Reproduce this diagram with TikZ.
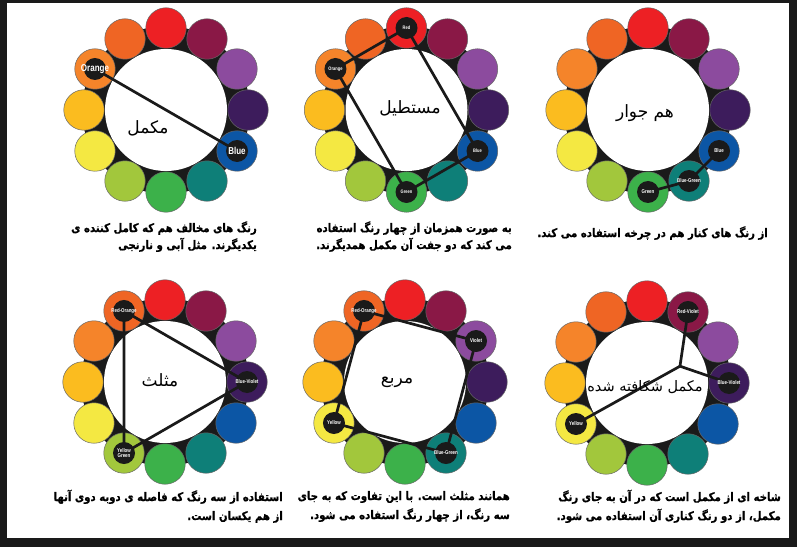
\documentclass[tikz,border=0pt]{standalone}
\usepackage{fontspec}
\TeXXeTstate=1
\newfontfamily\arfont[Script=Arabic]{DejaVu Sans}
\newfontfamily\arcap[Script=Arabic, FakeStretch=0.86, BoldFeatures={FakeBold=0.8}]{DejaVu Sans}
\newfontfamily\lblfont[FakeStretch=0.8]{Liberation Sans}
\definecolor{cR}{HTML}{ED2024}
\definecolor{cRV}{HTML}{8A1846}
\definecolor{cV}{HTML}{8C4B9E}
\definecolor{cBV}{HTML}{3D1C5C}
\definecolor{cB}{HTML}{0C56A5}
\definecolor{cBG}{HTML}{0E7F78}
\definecolor{cG}{HTML}{3CB14A}
\definecolor{cYG}{HTML}{A2C73C}
\definecolor{cY}{HTML}{F4E842}
\definecolor{cYO}{HTML}{FBBC1F}
\definecolor{cO}{HTML}{F5842A}
\definecolor{cRO}{HTML}{EF6524}
\definecolor{ink}{HTML}{1A1A1A}
\tikzset{
  wheelbg/.style={fill=ink},
  hub/.style={circle, fill=white, minimum size=122, inner sep=0},
  petal/.style={circle, minimum size=40.5, inner sep=0, draw=black!60, line width=0.5},
  seldot/.style={circle, fill=ink, minimum size=22, inner sep=0},
  lbl/.style={text=white, inner sep=0, align=center},
  link/.style={line width=2.7, draw=ink, line cap=round, line join=round},
  centertxt/.style={font=\arfont\fontsize{17}{20}\selectfont, inner sep=0},
  captxt/.style={font=\arcap\bfseries\fontsize{11.8}{13}\selectfont, anchor=base east, inner sep=0},
}
\newcommand\wheel[3]{%
  \fill[wheelbg] (#2,#3) circle (84);
  \node[hub] (#1hub) at (#2,#3) {};
  \foreach \ang/\cl/\nm in {90/cR/r, 60/cRV/rv, 30/cV/v, 0/cBV/bv, -30/cB/b, -60/cBG/bg, -90/cG/g, -120/cYG/yg, -150/cY/y, 180/cYO/yo, 150/cO/o, 120/cRO/ro}
    {\node[petal, fill=\cl] (#1\nm) at ([shift={(\ang:82)}] #2,#3) {};}
}
\newcommand\sel[3]{%
  \node[seldot] (#1dot) at (#1) {};
  \node[lbl, font=\lblfont\bfseries\fontsize{#3}{#3}\selectfont] (#1lbl) at (#1) {#2};
}
\begin{document}
\begin{tikzpicture}[x=1pt, y=1pt]
\useasboundingbox (0,0) rectangle (797,547);
\fill[ink] (0,0) rectangle (797,547);
\fill[white] (7,9) rectangle (789,544);
% wheels
\wheel{wa}{166}{437}
\wheel{wb}{406.5}{437}
\wheel{wc}{648}{437}
\wheel{wd}{165}{165}
\wheel{we}{405}{165}
\wheel{wf}{647}{164}
\coordinate (wfj) at ([shift={(27:37)}] 647,164);
% links
\draw[link] (wao.center) -- (wab.center);
\draw[link] (wbr.center) -- (wbo.center) -- (wbg.center) -- (wbb.center) -- cycle;
\draw[link] (wcg.center) -- (wcbg.center) -- (wcb.center);
\draw[link] (wdro.center) -- (wdbv.center) -- (wdyg.center) -- cycle;
\draw[link] (wero.center) -- (wev.center) -- (webg.center) -- (wey.center) -- cycle;
\draw[link] (wfy.center) -- (wfj);
\draw[link] (wfrv.center) -- (wfj) -- (wfbv.center);
% selected colours
\sel{wao}{Orange}{10}
\sel{wab}{Blue}{10}
\sel{wbr}{Red}{5}
\sel{wbo}{Orange}{5}
\sel{wbb}{Blue}{5}
\sel{wbg}{Green}{5}
\sel{wcg}{Green}{5.5}
\sel{wcbg}{Blue-Green}{5.5}
\sel{wcb}{Blue}{5.5}
\sel{wdro}{Red-Orange}{5.5}
\sel{wdbv}{Blue-Violet}{5.5}
\sel{wdyg}{Yellow\\Green}{5.5}
\sel{wero}{Red-Orange}{5.5}
\sel{wev}{Violet}{5.5}
\sel{webg}{Blue-Green}{5.5}
\sel{wey}{Yellow}{5.5}
\sel{wfrv}{Red-Violet}{5.5}
\sel{wfbv}{Blue-Violet}{5.5}
\sel{wfy}{Yellow}{5.5}
% centre titles
\node[centertxt] (tA) at (148,419) {\beginR مکمل\endR};
\node[centertxt] (tB) at (410,439) {\beginR مستطیل\endR};
\node[centertxt] (tC) at (645,434) {\beginR هم جوار\endR};
\node[centertxt] (tD) at (160,167) {\beginR مثلث\endR};
\node[centertxt] (tE) at (397,165) {\beginR مربع\endR};
\node[centertxt, font=\arfont\fontsize{14.5}{17}\selectfont] (tF) at (645,160) {\beginR مکمل شکافته شده\endR};
% captions
\node[captxt] (cA1) at (257,315) {\beginR رنگ های مخالف هم که کامل کننده ی\endR};
\node[captxt] (cA2) at (257,298) {\beginR یکدیگرند. مثل آبی و نارنجی\endR};
\node[captxt] (cB1) at (512,315) {\beginR به صورت همزمان از چهار رنگ استفاده\endR};
\node[captxt] (cB2) at (512,298) {\beginR می کند که دو جفت آن مکمل همدیگرند.\endR};
\node[captxt] (cC1) at (768,310) {\beginR از رنگ های کنار هم در چرخه استفاده می کند.\endR};
\node[captxt] (cD1) at (283,46) {\beginR استفاده از سه رنگ که فاصله ی دوبه دوی آنها\endR};
\node[captxt] (cD2) at (283,27) {\beginR از هم یکسان است.\endR};
\node[captxt] (cE1) at (510,47) {\beginR همانند مثلث است. با این تفاوت که به جای\endR};
\node[captxt] (cE2) at (510,28) {\beginR سه رنگ، از چهار رنگ استفاده می شود.\endR};
\node[captxt] (cF1) at (781,46) {\beginR شاخه ای از مکمل است که در آن به جای رنگ\endR};
\node[captxt] (cF2) at (781,27) {\beginR مکمل، از دو رنگ کناری آن استفاده می شود.\endR};
\end{tikzpicture}
\end{document}
